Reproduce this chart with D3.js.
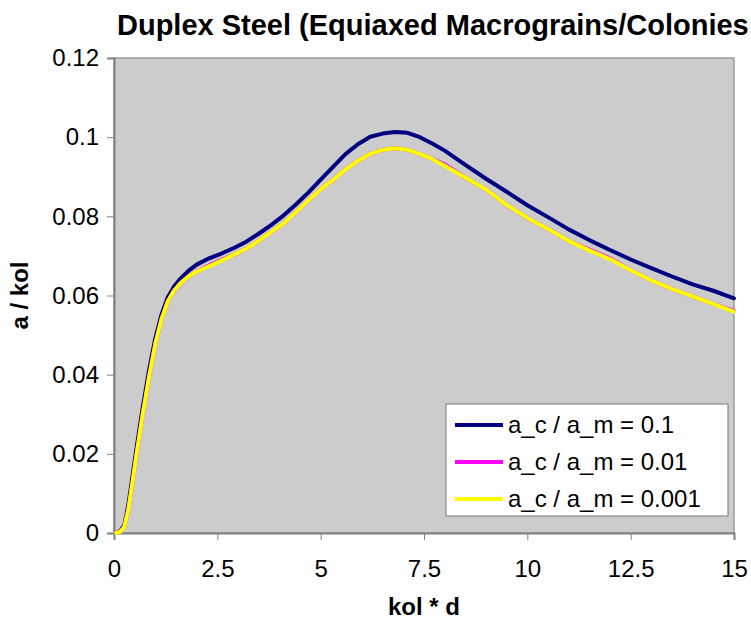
<!DOCTYPE html>
<html>
<head>
<meta charset="utf-8">
<script src="https://cdn.jsdelivr.net/npm/d3@7"></script>
<style>
  html, body { margin: 0; padding: 0; background: #fff; }
  svg { display: block; }
  text { font-family: "Liberation Sans", Arial, sans-serif; fill: #000; }
</style>
</head>
<body>
<svg id="chart" width="751" height="627"></svg>
<script>
// Strain axis (kol * d) sample points and the a / kol response for each ratio a_c / a_m
const xBlue = [0.05, 0.15, 0.25, 0.35, 0.45, 0.55, 0.7, 0.85, 1.0, 1.15, 1.3, 1.45, 1.6, 1.8, 2.0, 2.3, 2.6, 2.9, 3.2, 3.5, 3.8, 4.1, 4.4, 4.7, 5.0, 5.3, 5.6, 5.9, 6.2, 6.5, 6.8, 7.1, 7.4, 7.7, 8.0, 8.5, 9.0, 9.5, 10, 10.5, 11, 11.5, 12, 12.5, 13, 13.5, 14, 14.5, 15];
const yBlue = [0.0, 0.0005, 0.002, 0.0072, 0.0145, 0.0218, 0.032, 0.0412, 0.0492, 0.0552, 0.0595, 0.0622, 0.0642, 0.0662, 0.0678, 0.0694, 0.0706, 0.072, 0.0736, 0.0756, 0.0778, 0.0802, 0.083, 0.086, 0.0893, 0.0925, 0.0957, 0.0982, 0.1001, 0.1009, 0.1013, 0.1011, 0.1, 0.0984, 0.0966, 0.093, 0.0895, 0.0862, 0.0828, 0.0798, 0.0767, 0.074, 0.0715, 0.0691, 0.0669, 0.0648, 0.0628, 0.0612, 0.0593];

const xYellow = [0.05, 0.15, 0.25, 0.35, 0.45, 0.55, 0.7, 0.85, 1.0, 1.15, 1.3, 1.45, 1.6, 1.8, 2.0, 2.3, 2.6, 2.9, 3.2, 3.5, 3.8, 4.1, 4.4, 4.7, 5.0, 5.3, 5.6, 5.9, 6.2, 6.5, 6.8, 7.1, 7.4, 7.7, 8.0, 8.5, 9.0, 9.5, 10, 10.5, 11, 11.5, 12, 12.5, 13, 13.5, 14, 14.5, 15];
const yMagenta = [0.0, 0.0003, 0.0015, 0.006, 0.013, 0.0202, 0.0303, 0.0395, 0.0478, 0.054, 0.0585, 0.0612, 0.063, 0.0648, 0.066, 0.0676, 0.069, 0.0703, 0.0718, 0.0738, 0.076, 0.0782, 0.081, 0.084, 0.0868, 0.0892, 0.0918, 0.094, 0.0958, 0.0968, 0.0972, 0.0968, 0.0958, 0.0945, 0.0931, 0.0898, 0.0868, 0.0829, 0.0796, 0.0768, 0.0738, 0.0716, 0.0694, 0.0664, 0.0638, 0.0617, 0.0598, 0.0579, 0.0561];
const yYellow = [0.0, 0.0003, 0.0015, 0.006, 0.013, 0.0202, 0.0303, 0.0395, 0.0478, 0.054, 0.0585, 0.0612, 0.063, 0.0648, 0.066, 0.0674, 0.0688, 0.0703, 0.0718, 0.0738, 0.076, 0.0782, 0.081, 0.084, 0.0868, 0.0892, 0.0918, 0.094, 0.0958, 0.0968, 0.0972, 0.0968, 0.0958, 0.0945, 0.0928, 0.0898, 0.0868, 0.0829, 0.0796, 0.0768, 0.0738, 0.0714, 0.0692, 0.0664, 0.0638, 0.0617, 0.0598, 0.0579, 0.0559];

const seriesNames = ["a_c / a_m = 0.1", "a_c / a_m = 0.01", "a_c / a_m = 0.001"];
const seriesColors = ["#000080", "#ff00ff", "#ffff00"];

const xTicks = [0, 2.5, 5, 7.5, 10, 12.5, 15];
const xTickLabels = ["0", "2.5", "5", "7.5", "10", "12.5", "15"];
const yTicks = [0, 0.02, 0.04, 0.06, 0.08, 0.1, 0.12];
const yTickLabels = ["0", "0.02", "0.04", "0.06", "0.08", "0.1", "0.12"];

const titleText = "Duplex Steel (Equiaxed Macrograins/Colonies";
const xTitle = "kol * d";
const yTitle = "a / kol";

const series = [
  { name: seriesNames[0], color: seriesColors[0], xs: xBlue, ys: yBlue },
  { name: seriesNames[1], color: seriesColors[1], xs: xYellow, ys: yMagenta },
  { name: seriesNames[2], color: seriesColors[2], xs: xYellow, ys: yYellow }
];

const svg = d3.select("#chart");
const plot = { left: 114, right: 734, top: 58, bottom: 533 };

const x = d3.scaleLinear().domain([0, 15]).range([plot.left, plot.right]);
const y = d3.scaleLinear().domain([0, 0.12]).range([plot.bottom, plot.top]);

// plot background
svg.append("rect")
  .attr("x", plot.left).attr("y", plot.top)
  .attr("width", plot.right - plot.left).attr("height", plot.bottom - plot.top)
  .attr("fill", "#cccccc")
  .attr("stroke", "#9a9a9a").attr("stroke-width", 1.5);

// axes
const xAxis = d3.axisBottom(x).tickValues(xTicks).tickSize(7).tickPadding(20)
  .tickFormat((d, i) => xTickLabels[i]);
const yAxis = d3.axisLeft(y).tickValues(yTicks).tickSize(7).tickPadding(8)
  .tickFormat((d, i) => yTickLabels[i]);

const gx = svg.append("g").attr("transform", `translate(0,${plot.bottom})`).call(xAxis);
const gy = svg.append("g").attr("transform", `translate(${plot.left},0)`).call(yAxis);

[gx, gy].forEach(g => {
  g.select(".domain").attr("stroke", "#808080").attr("stroke-width", 2);
  g.selectAll(".tick line").attr("stroke", "#808080").attr("stroke-width", 1);
  g.selectAll(".tick text")
    .style("font-family", '"Liberation Sans", Arial, sans-serif')
    .style("font-size", "24px").attr("fill", "#000");
});

// series lines, drawn in order so the last ratio sits on top
const line = d3.line().x(d => x(d[0])).y(d => y(d[1]));
series.forEach(s => {
  const pts = s.xs.map((v, i) => [v, s.ys[i]]);
  svg.append("path")
    .datum(pts)
    .attr("d", line)
    .attr("fill", "none")
    .attr("stroke", s.color)
    .attr("stroke-width", 4)
    .attr("stroke-linejoin", "round")
    .attr("stroke-linecap", "round");
});

// legend
const lg = svg.append("g").attr("transform", "translate(446,404)");
lg.append("rect")
  .attr("x", 0).attr("y", 0).attr("width", 282).attr("height", 112)
  .attr("fill", "#ffffff").attr("stroke", "#777").attr("stroke-width", 1);
series.forEach((s, i) => {
  const cy = 21 + i * 37;
  lg.append("line")
    .attr("x1", 9).attr("x2", 57).attr("y1", cy).attr("y2", cy)
    .attr("stroke", s.color).attr("stroke-width", 4);
  lg.append("text")
    .attr("x", 62).attr("y", cy).attr("dy", "0.35em")
    .style("font-size", "24px")
    .text(s.name);
});

// titles
svg.append("text")
  .attr("x", 117).attr("y", 35)
  .style("font-size", "29px").style("font-weight", "bold")
  .text(titleText);

svg.append("text")
  .attr("x", (plot.left + plot.right) / 2).attr("y", 615)
  .attr("text-anchor", "middle")
  .style("font-size", "24px").style("font-weight", "bold")
  .text(xTitle);

svg.append("text")
  .attr("transform", `translate(28,${(plot.top + plot.bottom) / 2}) rotate(-90)`)
  .attr("text-anchor", "middle")
  .style("font-size", "24px").style("font-weight", "bold")
  .text(yTitle);
</script>
</body>
</html>
